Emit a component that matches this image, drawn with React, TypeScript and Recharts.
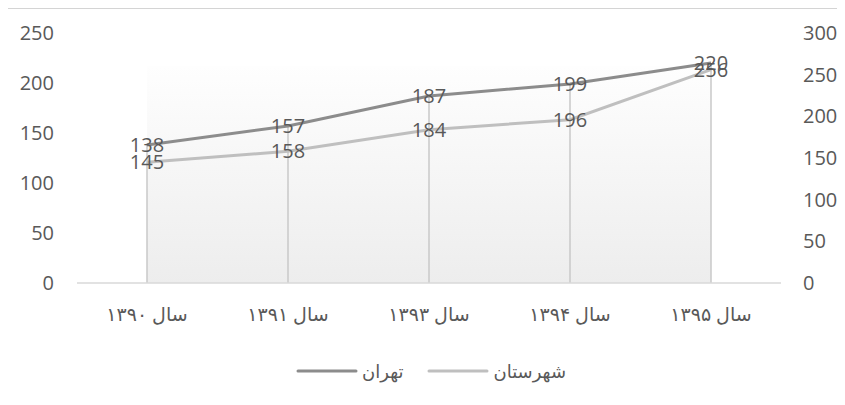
import React from "react";
import {
  LineChart,
  Line,
  XAxis,
  YAxis,
  ReferenceArea,
  ReferenceLine,
  LabelList,
} from "recharts";

// categories and series
const years = ["سال ۱۳۹۰", "سال ۱۳۹۱", "سال ۱۳۹۳", "سال ۱۳۹۴", "سال ۱۳۹۵"];
const tehran = [138, 157, 187, 199, 220];
const shahrestan = [145, 158, 184, 196, 256];
const leftTicks = [0, 50, 100, 150, 200, 250];
const rightTicks = [0, 50, 100, 150, 200, 250, 300];
const seriesNames = { tehran: "تهران", shahrestan: "شهرستان" };

const data = years.map((year, i) => ({
  year,
  tehran: tehran[i],
  shahrestan: shahrestan[i],
}));

const DARK = "#8c8c8c";
const LIGHT = "#bfbfbf";
const TEXT = "#595959";
const FONT = "'Open Sans', 'DejaVu Sans', sans-serif";

const App: React.FC = () => {
  const tickStyle = { fill: TEXT, fontSize: 20, fontFamily: FONT };

  return (
    <div
      style={{
        position: "relative",
        width: 845,
        height: 405,
        marginLeft: -8,
        marginTop: -8,
        overflow: "hidden",
        background: "#fff",
        fontFamily: FONT,
      }}
    >
      <div style={{ position: "absolute", left: 0, top: 0 }}>
        <LineChart
          width={845}
          height={405}
          data={data}
          margin={{ top: 33, right: 0, left: 0, bottom: 82 }}
        >
          <defs>
            <linearGradient id="plotBg" x1="0" y1="0" x2="0" y2="1">
              <stop offset="0%" stopColor="#fefefe" />
              <stop offset="100%" stopColor="#ededed" />
            </linearGradient>
          </defs>
          {/* outer chart frame (top and left edges show in the crop) */}
          <path d="M6 420 V8 H860" fill="none" stroke="#d4d4d4" strokeWidth={2} />
          <XAxis
            dataKey="year"
            xAxisId="x"
            height={40}
            padding={{ left: 70, right: 70 }}
            tickLine={false}
            tickSize={0}
            tickMargin={25}
            axisLine={{ stroke: "#d9d9d9", strokeWidth: 1.5 }}
            tick={{ fill: TEXT, fontSize: 19, fontFamily: FONT }}
          />
          <YAxis
            yAxisId="left"
            width={77}
            domain={[0, 250]}
            ticks={leftTicks}
            tickLine={false}
            axisLine={false}
            tickSize={0}
            tickMargin={23}
            tick={tickStyle}
          />
          <YAxis
            yAxisId="right"
            orientation="right"
            width={64}
            domain={[0, 300]}
            ticks={rightTicks}
            tickLine={false}
            axisLine={false}
            tickSize={0}
            tickMargin={22}
            tick={tickStyle}
          />
          {/* plot area fill */}
          <ReferenceArea
            xAxisId="x"
            yAxisId="left"
            y1={0}
            y2={217}
            fill="url(#plotBg)"
            fillOpacity={1}
            stroke="none"
            ifOverflow="visible"
          />
          {/* drop lines from the top series down to the axis */}
          {data.map((d) => (
            <ReferenceLine
              key={d.year}
              xAxisId="x"
              yAxisId="left"
              segment={[
                { x: d.year, y: 0 },
                { x: d.year, y: d.tehran },
              ]}
              stroke="#c8c8c8"
              strokeWidth={1.5}
              ifOverflow="visible"
            />
          ))}
          <Line
            xAxisId="x"
            yAxisId="right"
            dataKey="shahrestan"
            name={seriesNames.shahrestan}
            stroke={LIGHT}
            strokeWidth={3}
            dot={false}
            isAnimationActive={false}
          >
            <LabelList
              dataKey="shahrestan"
              position="center"
              fill={TEXT}
              fontSize={20}
              fontFamily={FONT}
            />
          </Line>
          <Line
            xAxisId="x"
            yAxisId="left"
            dataKey="tehran"
            name={seriesNames.tehran}
            stroke={DARK}
            strokeWidth={3}
            dot={false}
            isAnimationActive={false}
          >
            <LabelList
              dataKey="tehran"
              position="center"
              fill={TEXT}
              fontSize={20}
              fontFamily={FONT}
            />
          </Line>
        </LineChart>
      </div>
      {/* legend */}
      <div
        style={{
          position: "absolute",
          top: 359,
          left: 296,
          display: "flex",
          alignItems: "center",
          fontSize: 18,
          color: TEXT,
          direction: "ltr",
        }}
      >
        {[
          { name: seriesNames.tehran, color: DARK },
          { name: seriesNames.shahrestan, color: LIGHT },
        ].map((s, i) => (
          <div
            key={s.name}
            style={{ display: "flex", alignItems: "center", marginLeft: i ? 24 : 0 }}
          >
            <svg width={62} height={6}>
              <line x1={2} y1={3} x2={60} y2={3} stroke={s.color} strokeWidth={3} strokeLinecap="round" />
            </svg>
            <span style={{ marginLeft: 4, direction: "rtl" }}>{s.name}</span>
          </div>
        ))}
      </div>
    </div>
  );
};

export default App;
